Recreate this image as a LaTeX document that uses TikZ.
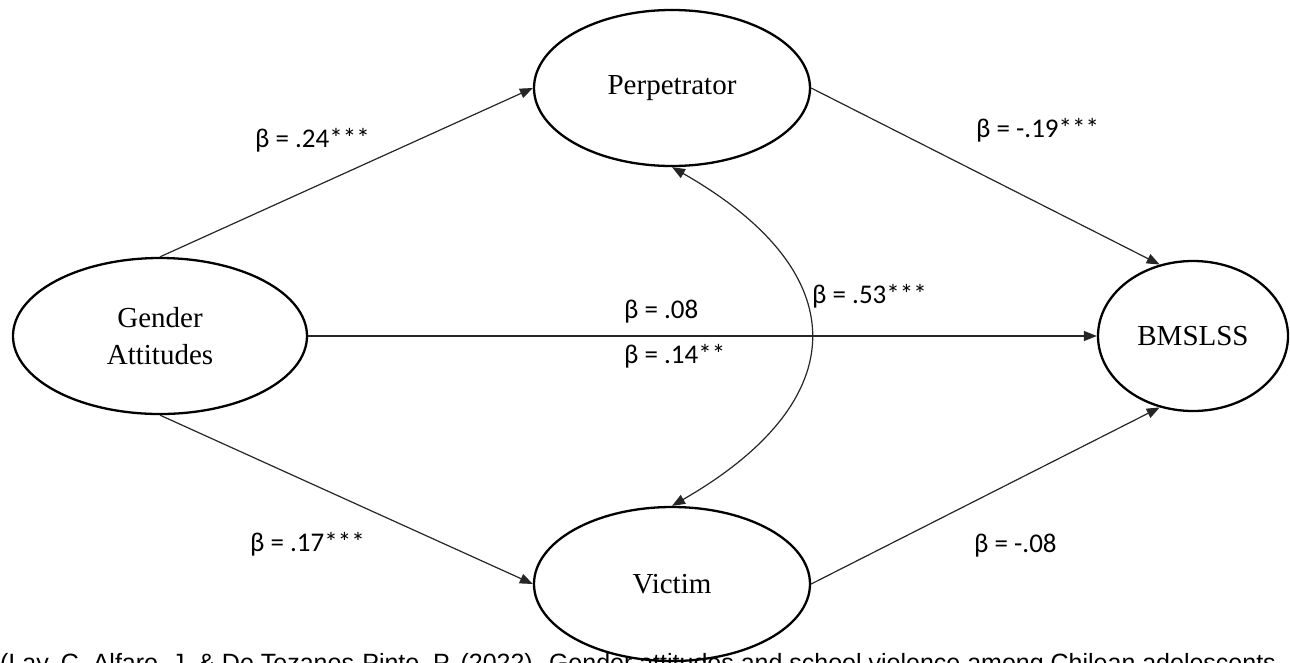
\documentclass[tikz,border=0pt]{standalone}
\usepackage{fontspec}
\setmainfont{Liberation Serif}
\newfontfamily\lblfont{Carlito}
\newfontfamily\capfont{Liberation Sans}
\usetikzlibrary{shapes.geometric,arrows.meta}
\begin{document}
\begin{tikzpicture}[x=1pt,y=-1pt,
  latent/.style={ellipse, draw, line width=2.3pt, inner sep=0pt, align=center,
    font=\fontsize{29}{37}\selectfont},
  pathline/.style={line width=1.2pt, draw=black!85, -{Triangle[length=13pt,width=10pt]}},
  covline/.style={line width=1.2pt, draw=black!85, {Triangle[length=13pt,width=10pt]}-{Triangle[length=13pt,width=10pt]}},
  coef/.style={font=\lblfont\fontsize{27}{30}\selectfont, inner sep=0pt, anchor=west},
  captext/.style={font=\capfont\fontsize{25}{25}\selectfont, inner sep=0pt, anchor=base west}]
\useasboundingbox (0,0) rectangle (1290,662);
\fill[white] (0,0) rectangle (1290,662);

\node[latent, minimum width=294, minimum height=156] (ga) at (160,336) {Gender\\Attitudes};
\node[latent, minimum width=276, minimum height=156] (perp) at (672,88) {Perpetrator};
\node[latent, minimum width=276, minimum height=154] (vic) at (672,584) {Victim};
\node[latent, minimum width=190, minimum height=150] (bm) at (1193,336) {BMSLSS};

\draw[pathline] (ga.north) -- (perp.west);
\draw[pathline] (ga.south) -- (vic.west);
\draw[pathline] (ga.east) -- (bm.west);
\draw[pathline] (perp.east) -- (bm.115);
\draw[pathline] (vic.east) -- (bm.245);
\draw[covline] (perp.south) .. controls (856,272) and (856,400) .. (vic.north);

\node[coef] (c1) at (255,140) {β = .24***};
\node[coef] (c2) at (976,130) {β = -.19***};
\node[coef] (c3) at (812,296) {β = .53***};
\node[coef] (c4) at (624,312) {β = .08};
\node[coef] (c5) at (624,356) {β = .14**};
\node[coef] (c6) at (250,544) {β = .17***};
\node[coef] (c7) at (974,546) {β = -.08};

\begin{scope}
\clip (0,0) rectangle (1290,662);
\node[captext] (cap) at (0,671) {(Lay, C. Alfaro, J. \& De Tezanos-Pinto, P. (2022). Gender attitudes and school violence among Chilean adolescents};
\end{scope}
\end{tikzpicture}
\end{document}
